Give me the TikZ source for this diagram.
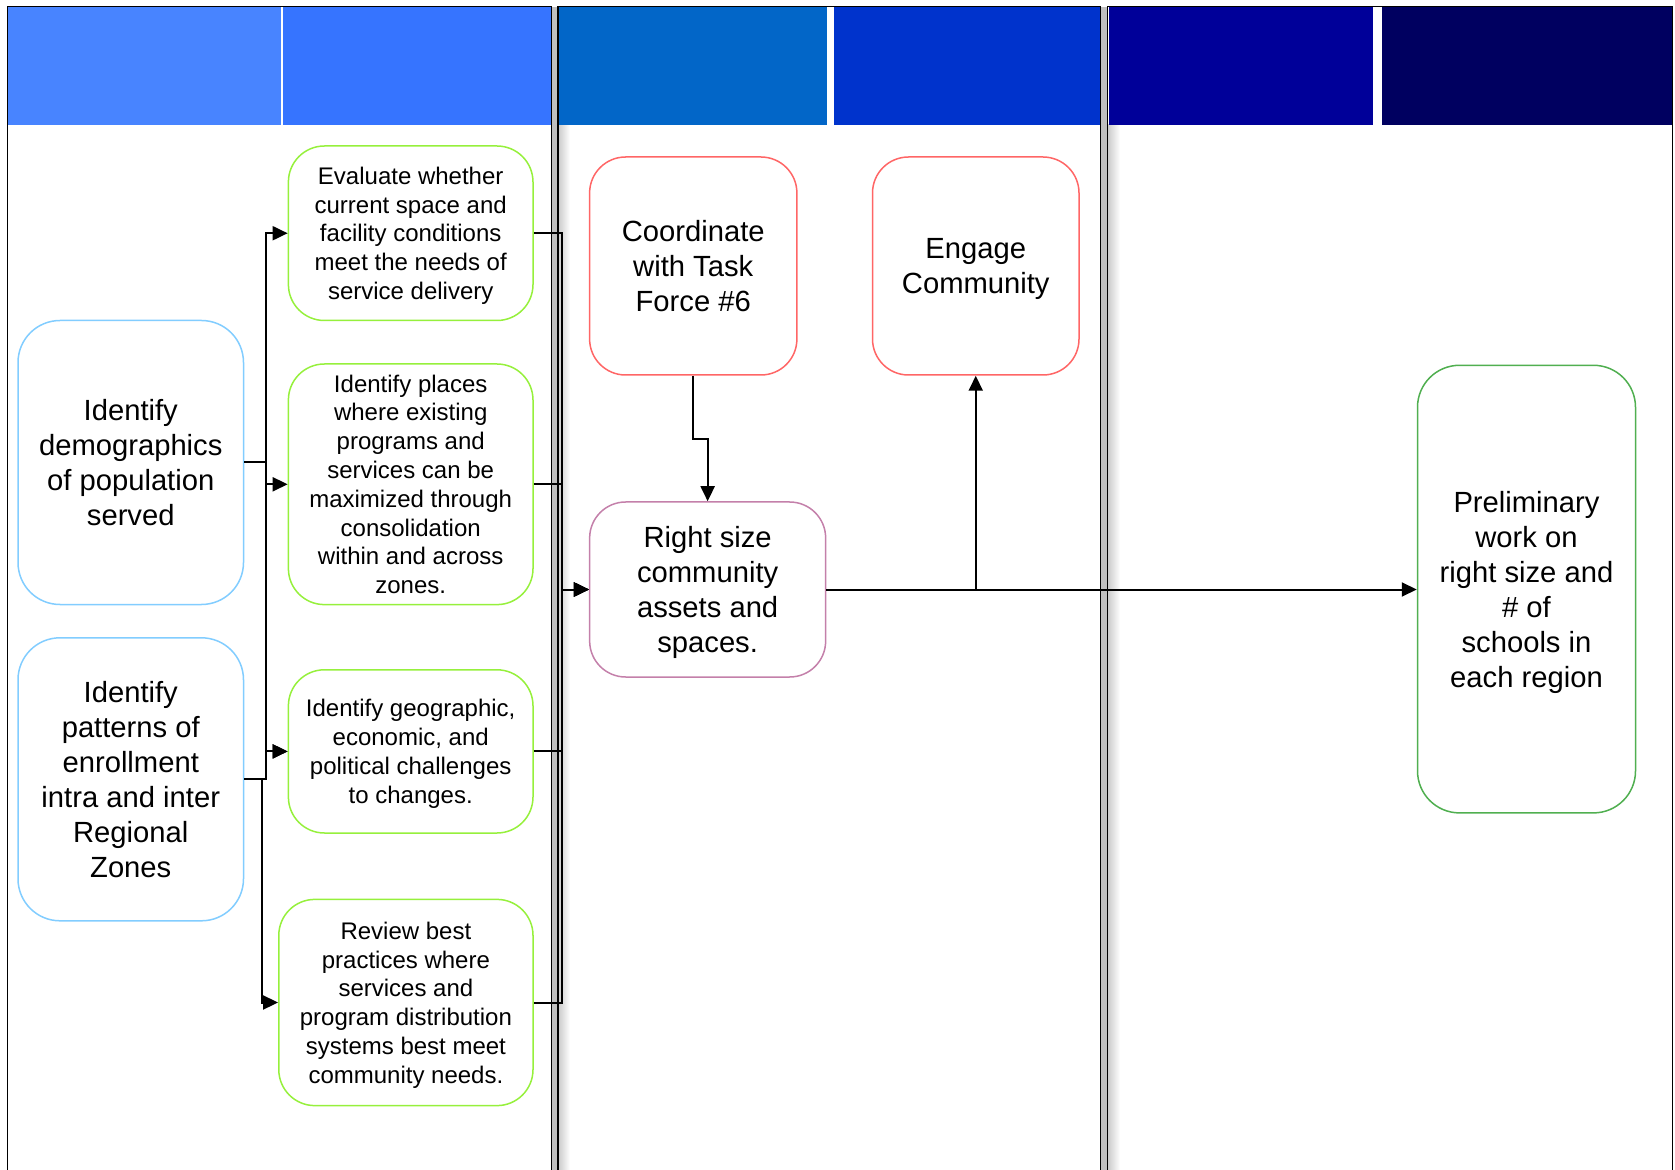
\documentclass[tikz,border=0pt]{standalone}
\usepackage{fontspec}
\setmainfont{Liberation Sans}
\usetikzlibrary{arrows.meta}
\definecolor{hA}{RGB}{72,132,255}
\definecolor{hB}{RGB}{54,116,255}
\definecolor{hC}{RGB}{2,102,200}
\definecolor{hD}{RGB}{0,51,204}
\definecolor{hE}{RGB}{0,0,153}
\definecolor{hF}{RGB}{0,0,96}
\definecolor{skyb}{RGB}{130,205,255}
\definecolor{limeg}{RGB}{150,240,60}
\definecolor{redp}{RGB}{255,102,102}
\definecolor{mauve}{RGB}{196,128,170}
\definecolor{greenj}{RGB}{80,175,80}
\begin{document}
\begin{tikzpicture}[x=0.5pt,y=-0.5pt,
  box/.style={draw, rounded corners=18pt, line width=0.75pt, align=center, inner sep=0pt, fill=white, text=black, text depth=0pt},
  bigbox/.style={box, rounded corners=21pt, font=\fontsize{14.6}{17.5}\selectfont},
  midbox/.style={box, font=\fontsize{14.6}{17.5}\selectfont},
  smallbox/.style={box, font=\fontsize{12}{14.4}\selectfont},
  conn/.style={line width=1pt, -{Triangle[length=7.5pt,width=7pt]}},
  lane/.style={line width=0.8pt, black}]
\useasboundingbox (0,0) rectangle (1675,1170);
% lane separators (gray bands and soft shadows)
\fill[gray!50] (552,7) rectangle (557.5,1170);
\fill[gray!50] (1101,7) rectangle (1106.5,1170);
\shade[left color=gray!40, right color=white] (558.5,125) rectangle (570,1170);
\shade[left color=gray!40, right color=white] (1108,125) rectangle (1120,1170);
% header cells
\fill[hA] (7.7,7) rectangle (281.3,125);
\fill[hB] (283.2,7) rectangle (551,125);
\fill[hC] (558.4,7) rectangle (827,125);
\fill[hD] (834,7) rectangle (1100.6,125);
\fill[hE] (1109,7) rectangle (1373,125);
\fill[hF] (1382,7) rectangle (1672,125);
% lane borders
\draw[lane] (7.5,1170) |- (551.5,6.5) -- (551.5,1170);
\draw[lane] (558,1170) |- (1100.5,6.5) -- (1100.5,1170);
\draw[lane] (1107.5,1170) |- (1672.5,6.5) -- (1672.5,1170);
% nodes
\node[bigbox, draw=skyb, minimum width=112.75pt, minimum height=142pt] (A) at (130.75,462.5)
  {Identify\\demographics\\of population\\served};
\node[bigbox, draw=skyb, minimum width=112.75pt, minimum height=141.5pt] (B) at (130.75,779.3)
  {Identify\\patterns of\\enrollment\\intra and inter\\Regional\\Zones};
\node[smallbox, draw=limeg, minimum width=122.3pt, minimum height=87.25pt] (C) at (410.7,233.25)
  {Evaluate whether\\current space and\\facility conditions\\meet the needs of\\service delivery};
\node[smallbox, draw=limeg, minimum width=122.3pt, minimum height=120.3pt] (D) at (410.7,484.3)
  {Identify places\\where existing\\programs and\\services can be\\maximized through\\consolidation\\within and across\\zones.};
\node[smallbox, draw=limeg, minimum width=122.3pt, minimum height=81.6pt] (E) at (410.7,751.4)
  {Identify geographic,\\economic, and\\political challenges\\to changes.};
\node[smallbox, draw=limeg, minimum width=127.1pt, minimum height=103.1pt] (F) at (405.9,1002.5)
  {Review best\\practices where\\services and\\program distribution\\systems best meet\\community needs.};
\node[midbox, draw=redp, minimum width=103.65pt, minimum height=109pt] (G) at (693.25,266)
  {Coordinate\\with Task\\Force \#6};
\node[midbox, draw=redp, minimum width=103.25pt, minimum height=109pt] (H) at (975.75,266)
  {Engage\\Community};
\node[midbox, draw=mauve, minimum width=118pt, minimum height=87.5pt] (I) at (707.65,589.5)
  {Right size\\community\\assets and\\spaces.};
\node[bigbox, draw=greenj, minimum width=109pt, minimum height=223.8pt] (J) at (1526.5,589.1)
  {Preliminary\\work on\\right size and\\\# of\\schools in\\each region};
% connectors, left lane
\draw[conn] (A.east) -- ++(22,0) |- (C.west);
\draw[conn] (A.east) -- ++(22,0) |- (D.west);
\draw[conn] (A.east) -- ++(22,0) |- (E.west);
\draw[conn] (B.east) -- ++(22,0) |- (E.west);
\draw[conn] (B.east) -- ++(18,0) |- (F.west);
% connectors into the middle lane
\draw[conn] (C.east) -- ++(28.5,0) |- (I.west);
\draw[conn] (D.east) -- ++(28.5,0) |- (I.west);
\draw[conn] (E.east) -- ++(28.5,0) |- (I.west);
\draw[conn] (F.east) -- ++(28.5,0) |- (I.west);
\draw[conn] (G.south) -- ++(0,63) -| (I.north);
\draw[conn] (I.east) -| (H.south);
\draw[conn] (I.east) -- (I.east -| J.west);
\end{tikzpicture}
\end{document}
